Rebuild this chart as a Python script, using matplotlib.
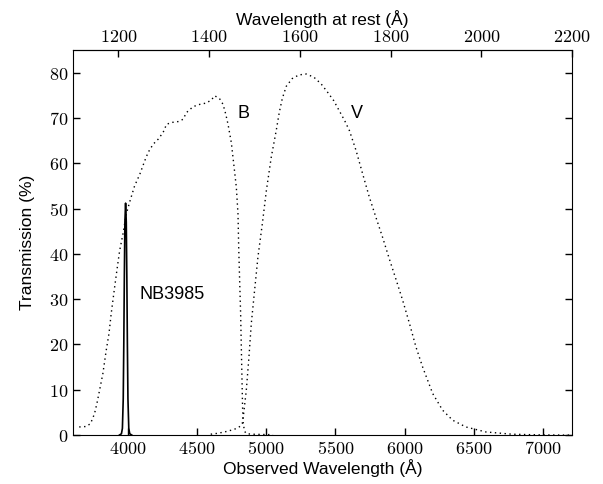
import numpy as np
import matplotlib.pyplot as plt
from matplotlib.ticker import FuncFormatter

plt.rcParams['mathtext.fontset'] = 'cm'

# redshift factor (NB3985 Lya)
one_plus_z = 3985.0 / 1216.0

b_wave = [3650, 3700, 3730, 3745, 3761, 3778, 3797, 3821, 3845, 3865, 3881, 3906,
          3925, 3942, 3966, 3990, 4014, 4050, 4088, 4124, 4148, 4184, 4220, 4256,
          4281, 4317, 4364, 4400, 4425, 4473, 4521, 4569, 4605, 4629, 4665, 4689,
          4708, 4725, 4749, 4773, 4785, 4797, 4802, 4809, 4816, 4821, 4826, 4830,
          4835, 4845, 4860, 4900, 4960, 5050]
b_trans = [1.8, 1.9, 2.5, 3.5, 4.8, 7.0, 9.9, 13.6, 18.7, 22.4, 26.8, 32.7,
           37.0, 40.7, 44.4, 48.8, 51.4, 55.0, 57.6, 60.6, 62.4, 64.2, 65.3, 66.8,
           68.6, 69.0, 69.2, 69.7, 71.2, 72.5, 73.0, 73.3, 74.0, 74.9, 74.2, 73.0,
           70.9, 68.6, 64.5, 58.0, 54.7, 48.8, 41.5, 34.0, 26.8, 19.4, 12.0, 6.2,
           2.5, 0.8, 0.3, 0.2, 0.15, 0.1]

v_wave = [4600, 4650, 4700, 4750, 4790, 4815, 4828, 4838, 4857, 4876, 4893, 4917,
          4941, 4973, 5002, 5037, 5073, 5095, 5117, 5146, 5189, 5237, 5290, 5345,
          5398, 5446, 5489, 5530, 5566, 5602, 5650, 5698, 5746, 5794, 5842, 5891,
          5939, 5987, 6035, 6083, 6131, 6203, 6275, 6347, 6443, 6587, 6777, 6972,
          7200]
v_trans = [0.2, 0.4, 0.7, 1.1, 1.5, 2.0, 2.6, 4.8, 9.9, 17.2, 24.6, 32.0,
           39.3, 46.7, 54.0, 61.3, 67.2, 71.2, 74.3, 77.0, 78.7, 79.5, 79.7, 79.0,
           77.5, 75.6, 73.8, 71.5, 69.5, 67.2, 62.8, 57.6, 52.5, 48.0, 43.6, 38.8,
           34.3, 29.7, 24.7, 19.4, 15.0, 9.2, 5.5, 3.3, 1.8, 0.7, 0.2, 0.05,
           0.0]

nb_wave = [3940, 3955, 3962, 3968, 3972, 3976, 3980, 3985, 3990, 3994, 3998, 4002,
           4008, 4015, 4030]
nb_trans = [0.0, 0.3, 1.5, 8.0, 20.0, 35.0, 47.0, 51.2, 47.0, 35.0, 20.0, 8.0,
            1.5, 0.3, 0.0]

sans = ['Liberation Sans', 'DejaVu Sans']

fig = plt.figure(figsize=(6.03, 4.84), dpi=100)
ax = fig.add_axes([0.121, 0.101, 0.8276, 0.7957])

ax.plot(b_wave, b_trans, color='black', lw=1.0, linestyle=(0, (1, 2.5)))
ax.plot(v_wave, v_trans, color='black', lw=1.0, linestyle=(0, (1, 2.5)))
ax.plot(nb_wave, nb_trans, color='black', lw=1.2)

ax.set_xlim(1100 * one_plus_z, 2200 * one_plus_z)
ax.set_ylim(0, 85)
ax.set_xticks([4000, 4500, 5000, 5500, 6000, 6500, 7000])
ax.set_yticks(range(0, 81, 10))

fmt = FuncFormatter(lambda v, p: r'$%d$' % v)
ax.xaxis.set_major_formatter(fmt)
ax.yaxis.set_major_formatter(fmt)
ax.tick_params(direction='in', length=5, width=1, labelsize=13, right=True)

ax.text(4795, 71, 'B', fontsize=13, family=sans, ha='left', va='center')
ax.text(5615, 71, 'V', fontsize=13, family=sans, ha='left', va='center')
ax.text(4088, 31, 'NB3985', fontsize=13, family=sans, ha='left', va='center')

ax.set_xlabel('Observed Wavelength (Å)', family=sans, fontsize=12.5, labelpad=1)
ax.set_ylabel('Transmission (%)', family=sans, fontsize=12.5, labelpad=10)

top = ax.secondary_xaxis('top', functions=(lambda x: x / one_plus_z,
                                           lambda x: x * one_plus_z))
top.set_xticks([1200, 1400, 1600, 1800, 2000, 2200])
top.xaxis.set_major_formatter(fmt)
top.tick_params(direction='in', length=5, width=1, labelsize=13, pad=3)
top.set_xlabel('Wavelength at rest (Å)', family=sans, fontsize=12.5, labelpad=2)

fig.savefig('out.png', dpi=100)
